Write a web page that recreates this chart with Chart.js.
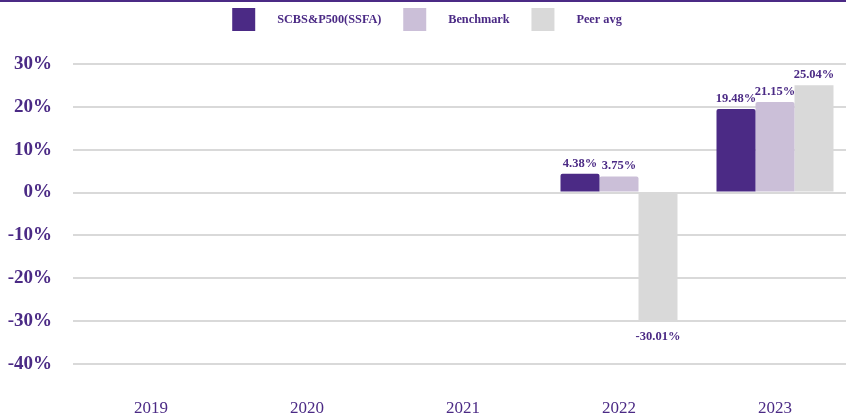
<!DOCTYPE html>
<html>
<head>
<meta charset="utf-8">
<script src="https://cdn.jsdelivr.net/npm/chart.js@4/dist/chart.umd.min.js"></script>
<style>
  html, body { margin: 0; padding: 0; background: #fff; }
  .wrap { width: 846px; height: 414px; border-top: 2px solid #4b2a85; }
  canvas { display: block; }
</style>
</head>
<body>
<div class="wrap"><canvas id="perf" width="846" height="414"></canvas></div>
<script>
const years = ['2019', '2020', '2021', '2022', '2023'];
const fundReturns = [null, null, null, 4.38, 19.48];
const benchmarkReturns = [null, null, null, 3.75, 21.15];
const peerReturns = [null, null, null, -30.01, 25.04];
const yTicks = [30, 20, 10, 0, -10, -20, -30, -40];

const PURPLE = '#4b2a85';
const serif = "'Liberation Serif', 'Times New Roman', serif";

// value labels above positive bars, below negative ones
const valueLabels = {
  id: 'valueLabels',
  afterDatasetsDraw(chart) {
    const ctx = chart.ctx;
    ctx.save();
    ctx.font = 'bold 12.5px ' + serif;
    ctx.fillStyle = PURPLE;
    ctx.textAlign = 'center';
    chart.data.datasets.forEach((ds, i) => {
      chart.getDatasetMeta(i).data.forEach((bar, j) => {
        const v = ds.data[j];
        if (v == null) return;
        const txt = v.toFixed(2) + '%';
        if (v >= 0) {
          ctx.textBaseline = 'bottom';
          ctx.fillText(txt, bar.x, bar.y - 4);
        } else {
          ctx.textBaseline = 'top';
          ctx.fillText(txt, bar.x, bar.y + 9);
        }
      });
    });
    ctx.restore();
  }
};

// more room between legend and plot; the year slots run slightly past the right edge
const layoutTweaks = {
  id: 'layoutTweaks',
  beforeLayout(chart) {
    const lg = chart.legend;
    if (!lg || lg._gapPatched) return;
    const fit = lg.fit;
    lg.fit = function () { fit.call(this); this.height += 23; };
    lg._gapPatched = true;
  },
  afterLayout(chart) {
    const x = chart.scales.x;
    x.right += 7;
    x.width += 7;
    x.configure();
    const lg = chart.legend;
    lg.left += 4;
    lg.right += 4;
  }
};

new Chart(document.getElementById('perf'), {
  type: 'bar',
  data: {
    labels: years,
    datasets: [
      { label: 'SCBS&P500(SSFA)', data: fundReturns, backgroundColor: '#4b2a85', borderRadius: 2 },
      { label: 'Benchmark', data: benchmarkReturns, backgroundColor: '#cbbfd8', borderRadius: 2 },
      { label: 'Peer avg', data: peerReturns, backgroundColor: '#d9d9d9', borderRadius: 0 }
    ]
  },
  options: {
    responsive: false,
    animation: false,
    datasets: { bar: { categoryPercentage: 0.75, barPercentage: 1 } },
    plugins: {
      tooltip: { enabled: false },
      legend: {
        position: 'top',
        labels: {
          boxWidth: 23,
          boxHeight: 23,
          padding: 6,
          color: PURPLE,
          font: { family: serif, size: 12.3, weight: 'bold' },
          generateLabels(chart) {
            const items = Chart.defaults.plugins.legend.labels.generateLabels(chart);
            return items.map((l, i) => {
              l.text = '\u2003\u2009\u200a' + l.text + (i < items.length - 1 ? '\u2003\u2009\u200a' : '');
              l.lineWidth = 0;
              return l;
            });
          }
        }
      }
    },
    scales: {
      x: {
        grid: { display: false },
        border: { display: false },
        afterFit(axis) { axis.height = 52; },
        ticks: { color: PURPLE, padding: 26, font: { family: serif, size: 17 } }
      },
      y: {
        min: -40,
        max: 30,
        afterBuildTicks(axis) { axis.ticks = yTicks.map(v => ({ value: v })); },
        afterFit(axis) { axis.width = 73; },
        grid: { color: '#d9d9d9', lineWidth: 2, drawTicks: false },
        border: { display: false },
        ticks: {
          color: PURPLE,
          padding: 21,
          font: { family: serif, size: 19, weight: 'bold' },
          callback: v => v + '%'
        }
      }
    }
  },
  plugins: [valueLabels, layoutTweaks]
});
</script>
</body>
</html>
